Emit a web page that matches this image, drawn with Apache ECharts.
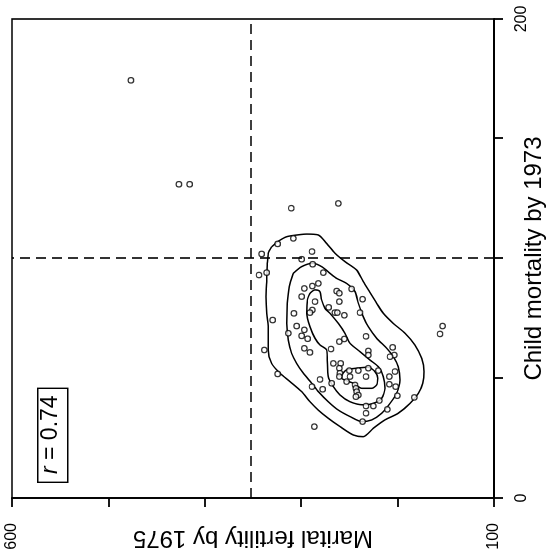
<!DOCTYPE html>
<html>
<head>
<meta charset="utf-8">
<script src="https://cdn.jsdelivr.net/npm/echarts@6/dist/echarts.min.js"></script>
<style>
  html, body { margin: 0; padding: 0; background: #fff; overflow: hidden; width: 548px; height: 554px; }
  /* The plot is laid out upright (mortality across, fertility up) and then turned a quarter turn counter-clockwise. */
  #chart { position: absolute; left: 0; top: 0; width: 554px; height: 548px;
           transform-origin: 0 0; transform: translate(0, 554px) rotate(-90deg); }
</style>
</head>
<body>
<div id="chart"></div>
<script>
// Labelled tick values on each axis
const mortalityTickLabels = [0, 200];
const fertilityTickLabels = [100, 600];

// Reference lines
const mortalityRef = 100;
const fertilityRef = 352;

// Correlation shown in the box
const correlation = 0.74;

// Regions: [child mortality by 1973, marital fertility by 1975]
const regions = [
  [106.1, 324.4], [108.4, 308.2], [101.9, 341.0], [102.9, 288.8], [99.7, 299.5],
  [93.1, 343.8], [94.1, 335.8], [97.6, 288.1], [94.1, 277.0], [87.5, 296.8],
  [88.5, 288.5], [89.6, 282.2], [84.1, 299.5], [82.0, 285.7], [86.4, 263.2],
  [85.5, 260.5], [82.0, 260.5], [87.3, 247.7], [83.0, 236.3], [79.6, 271.5],
  [78.5, 288.5], [77.4, 290.9], [77.4, 265.0], [77.4, 262.5], [76.3, 255.3],
  [77.4, 239.0], [74.3, 329.6], [77.1, 307.5], [71.8, 304.7], [70.2, 296.8],
  [68.8, 313.4], [67.7, 299.5], [66.5, 293.3], [65.3, 260.5], [66.4, 255.3],
  [67.5, 232.8], [62.5, 296.8], [60.8, 290.9], [62.2, 269.1], [61.8, 338.3],
  [61.4, 230.4], [59.7, 230.4], [62.9, 205.1], [59.7, 203.4], [59.0, 207.9],
  [56.2, 266.7], [56.2, 259.1], [54.2, 260.5], [52.1, 259.8], [50.7, 260.5],
  [53.2, 250.1], [53.2, 240.7], [54.2, 230.4], [50.7, 232.8], [53.2, 220.0],
  [52.8, 202.7], [50.7, 208.6], [51.8, 324.4], [49.5, 280.5], [47.9, 268.4],
  [48.6, 252.9], [50.7, 249.4], [47.2, 244.2], [45.8, 243.2], [44.4, 242.5],
  [43.0, 240.7], [42.3, 243.2], [47.5, 208.6], [46.5, 202.0], [46.5, 288.8],
  [45.4, 277.7], [42.7, 200.3], [42.0, 182.7], [40.7, 219.0], [38.4, 232.8],
  [38.4, 225.2], [35.4, 232.8], [37.0, 210.7], [31.9, 236.3], [29.8, 286.4],
  [68.5, 156.0], [71.8, 153.3],
  [174.4, 476.6], [131.0, 426.8], [131.0, 415.7], [121.0, 310.3], [123.0, 261.5]
];

// Density contours (closed rings), outermost first
const contourOuter = [
  [104.9, 330.6], [107.0, 324.4], [109.1, 315.1], [109.8, 304.7], [110.2, 294.3],
  [109.8, 282.2], [106.3, 273.6], [102.2, 264.9], [98.7, 254.6], [95.2, 242.5],
  [90.3, 235.6], [86.9, 230.4], [81.3, 221.7], [77.1, 214.8], [72.9, 204.4],
  [68.8, 192.3], [63.9, 182.0], [58.3, 175.0], [52.8, 172.6], [47.9, 174.0],
  [43.7, 178.5], [39.5, 187.1], [35.4, 199.3], [32.6, 213.1], [29.1, 225.2],
  [25.6, 235.6], [26.3, 245.9], [29.8, 259.7], [33.3, 271.9], [36.7, 282.2],
  [40.2, 290.9], [44.4, 299.5], [48.6, 311.6], [52.1, 322.0], [56.2, 330.6],
  [61.8, 334.1], [70.2, 334.1], [77.1, 335.8], [84.1, 336.5], [91.0, 335.8],
  [98.0, 335.1], [102.2, 334.1], [104.9, 330.6]
];
const contourMiddle = [
  [93.8, 308.2], [96.6, 299.5], [98.0, 288.1], [96.6, 278.8], [93.8, 270.1],
  [91.7, 263.2], [89.6, 252.9], [86.2, 244.2], [81.3, 240.7], [75.7, 235.6],
  [71.5, 230.4], [66.7, 221.7], [62.5, 211.3], [59.0, 204.4], [54.8, 199.3],
  [49.3, 197.5], [43.7, 201.0], [39.5, 207.9], [35.4, 216.5], [32.6, 226.9],
  [31.9, 237.3], [34.0, 249.4], [36.7, 261.5], [40.2, 271.9], [44.4, 282.2],
  [47.9, 289.1], [52.1, 297.8], [56.2, 304.7], [60.4, 309.9], [66.0, 313.4],
  [72.9, 315.1], [81.3, 314.4], [88.2, 312.3], [93.8, 308.2]
];
const contourInner = [
  [85.5, 290.9], [86.9, 285.7], [86.2, 280.5], [82.7, 278.8], [79.2, 275.3],
  [77.1, 270.1], [72.9, 261.5], [68.8, 254.6], [64.6, 249.4], [61.1, 239.0],
  [57.6, 228.6], [54.8, 220.0], [50.7, 214.8], [45.8, 213.1], [41.6, 216.5],
  [39.5, 225.2], [38.9, 235.6], [40.2, 249.4], [43.0, 259.7], [46.5, 266.7],
  [50.7, 271.9], [57.6, 272.9], [61.8, 273.6], [63.9, 280.5], [66.7, 285.7],
  [71.5, 290.9], [77.1, 294.3], [82.7, 293.6], [85.5, 290.9]
];
const contourCore = [
  [51.4, 258.0], [53.5, 252.9], [54.2, 242.5], [54.6, 230.4], [52.8, 223.5],
  [50.0, 220.7], [47.2, 221.7], [45.8, 226.9], [45.8, 237.3], [47.9, 245.9],
  [49.0, 252.9], [50.0, 258.0], [51.4, 258.0]
];

const FONT = '"Liberation Sans", Arial, Helvetica, sans-serif';
const INK = '#000';

function contourSeries(data) {
  return {
    type: 'line',
    data: data,
    showSymbol: false,
    smooth: 0.25,
    silent: true,
    lineStyle: { color: INK, width: 1.5 },
    z: 2
  };
}

const chart = echarts.init(document.getElementById('chart'), null, { renderer: 'canvas' });

chart.setOption({
  animation: false,
  backgroundColor: '#fff',
  grid: {
    left: 56, right: 19, top: 12, bottom: 54,
    show: true, borderColor: INK, borderWidth: 1.6,
    containLabel: false, outerBoundsMode: 'none'
  },
  xAxis: {
    type: 'value', min: 0, max: 200, interval: 50,
    name: 'Child mortality by 1973',
    nameLocation: 'middle', nameGap: 28, nameMoveOverlap: false,
    nameTextStyle: { fontFamily: FONT, fontSize: 24, color: INK },
    axisLine: { show: true, onZero: false, lineStyle: { color: INK, width: 1.8 } },
    axisTick: { show: true, inside: false, length: 9, lineStyle: { color: INK, width: 1.8 } },
    axisLabel: {
      show: true, margin: 20, fontFamily: FONT, fontSize: 16, color: INK,
      showMinLabel: true, showMaxLabel: true,
      formatter: v => (mortalityTickLabels.includes(v) ? String(v) : '')
    },
    splitLine: { show: false }
  },
  yAxis: {
    type: 'value', min: 100, max: 600, interval: 100,
    name: 'Marital fertility by 1975',
    nameLocation: 'middle', nameGap: 28, nameRotate: 90, nameMoveOverlap: false,
    nameTextStyle: { fontFamily: FONT, fontSize: 24, color: INK },
    axisLine: { show: true, onZero: false, lineStyle: { color: INK, width: 1.8 } },
    axisTick: { show: true, inside: false, length: 9, lineStyle: { color: INK, width: 1.8 } },
    axisLabel: {
      show: true, margin: 25, fontFamily: FONT, fontSize: 16, color: INK,
      showMinLabel: true, showMaxLabel: true,
      formatter: v => (fertilityTickLabels.includes(v) ? String(v) : '')
    },
    splitLine: { show: false }
  },
  graphic: [
    {
      type: 'rect', left: 71, top: 37,
      shape: { width: 94, height: 30 },
      style: { fill: '#fff', stroke: INK, lineWidth: 1.4 },
      z: 10
    },
    {
      type: 'text', left: 80, top: 39,
      style: {
        text: '{i|r} = ' + correlation.toFixed(2),
        rich: { i: { fontStyle: 'italic', fontFamily: FONT, fontSize: 23, fill: INK } },
        fontFamily: FONT, fontSize: 23, fill: INK
      },
      z: 11
    }
  ],
  series: [
    contourSeries(contourOuter),
    contourSeries(contourMiddle),
    contourSeries(contourInner),
    contourSeries(contourCore),
    {
      type: 'scatter',
      data: regions,
      symbol: 'circle',
      symbolSize: 5.5,
      itemStyle: { color: '#fff', borderColor: INK, borderWidth: 1.2 },
      z: 3,
      markLine: {
        silent: true,
        symbol: 'none',
        label: { show: false },
        lineStyle: { color: INK, width: 1.6, type: [10, 6] },
        data: [{ xAxis: mortalityRef }, { yAxis: fertilityRef }]
      }
    }
  ]
});
</script>
</body>
</html>
